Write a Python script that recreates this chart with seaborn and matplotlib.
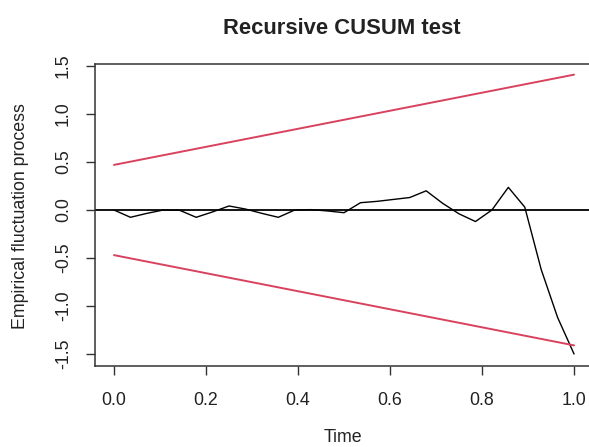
import numpy as np
import pandas as pd
import matplotlib
matplotlib.use("Agg")
import matplotlib.pyplot as plt
import seaborn as sns

# ---- data ----
time = [i / 28 for i in range(29)]
process = [0.0, -0.076, -0.035, 0.0, -0.003, -0.076, -0.02, 0.042, 0.01, -0.035,
           -0.076, 0.0, 0.004, -0.01, -0.028, 0.076, 0.09, 0.11, 0.13, 0.20,
           0.07, -0.04, -0.12, 0.0, 0.236, 0.03, -0.62, -1.12, -1.50]
bound_t = [0.0, 1.0]
upper_bound = [0.47, 1.41]
lower_bound = [-0.47, -1.41]
xticks = [0.0, 0.2, 0.4, 0.6, 0.8, 1.0]
xtick_labels = ["0.0", "0.2", "0.4", "0.6", "0.8", "1.0"]
yticks = [-1.5, -1.0, -0.5, 0.0, 0.5, 1.0, 1.5]
ytick_labels = ["-1.5", "-1.0", "-0.5", "0.0", "0.5", "1.0", "1.5"]
title = "Recursive CUSUM test"
xlabel = "Time"
ylabel = "Empirical fluctuation process"

sns.set_style("white")
plt.rcParams["font.family"] = ["Liberation Sans", "DejaVu Sans"]

W, H = 589, 447
fig = plt.figure(figsize=(W / 100, H / 100), dpi=100)
ax = fig.add_axes([95 / W, (H - 366) / H, (592 - 95) / W, (366 - 64) / H])

df = pd.DataFrame({"Time": time, "value": process})
sns.lineplot(data=df, x="Time", y="value", color="black", linewidth=1.0, ax=ax)
sns.lineplot(x=bound_t, y=upper_bound, color="#D9425E", linewidth=1.4, ax=ax)
sns.lineplot(x=bound_t, y=lower_bound, color="#D9425E", linewidth=1.4, ax=ax)
ax.axhline(0, color="black", linewidth=1.3)

ax.set_xlim(-0.0413, 1.039)
ax.set_ylim(-1.625, 1.521)

ax.set_xticks(xticks)
ax.set_xticklabels(xtick_labels, fontsize=12.8, color="#222222")
ax.set_yticks(yticks)
ax.set_yticklabels(ytick_labels, fontsize=12.8, rotation=90, va="center", color="#222222")
ax.tick_params(axis="both", direction="out", length=6.5, width=1.0, color="#333333",
               bottom=True, left=True, top=False, right=False)
ax.tick_params(axis="x", pad=12)
ax.tick_params(axis="y", pad=10)

for s in ax.spines.values():
    s.set_color("#333333")
    s.set_linewidth(1.1)

ax.set_xlabel("")
ax.set_ylabel("")
fig.text(343 / W, 1 - 437 / H, xlabel, fontsize=12.8, ha="center", va="center", color="#222222")
fig.text(21 / W, 1 - 216 / H, ylabel, fontsize=12.8, rotation=90, ha="center", va="center", color="#222222")
fig.text(342 / W, 1 - 28 / H, title, fontsize=15.8, fontweight="bold", ha="center", va="center", color="#222222")

fig.savefig("out.png", dpi=100)
